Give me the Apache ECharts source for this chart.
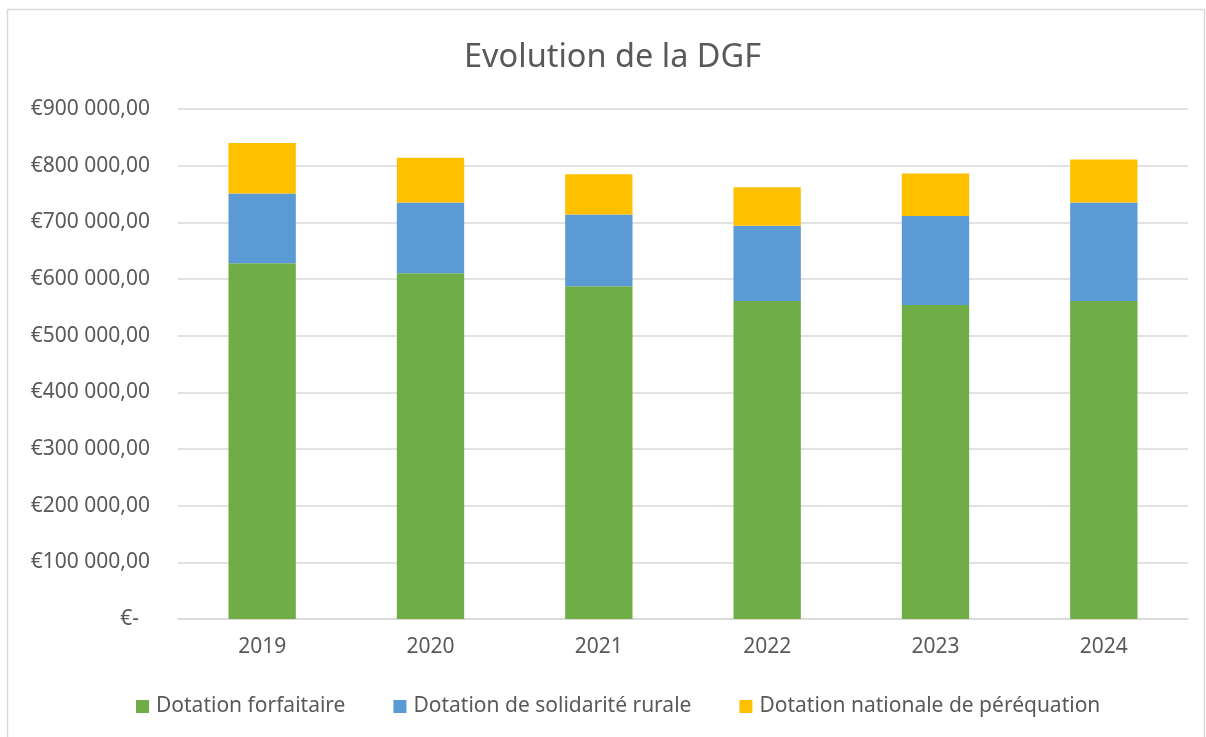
<!DOCTYPE html>
<html>
<head>
<meta charset="utf-8">
<script src="https://cdn.jsdelivr.net/npm/echarts@6/dist/echarts.min.js"></script>
<style>
  html, body { margin: 0; padding: 0; background: #fff; }
  #chart { width: 1206px; height: 737px; }
</style>
</head>
<body>
<div id="chart"></div>
<script>
// données (en euros)
var years = ["2019", "2020", "2021", "2022", "2023", "2024"];
var forfaitaire = [628000, 610000, 587000, 561000, 554000, 561000];
var solidariteRurale = [123000, 125000, 127000, 133000, 157000, 174000];
var perequation = [89000, 79000, 71000, 68000, 75000, 76000];
var seriesNames = ["Dotation forfaitaire", "Dotation de solidarité rurale", "Dotation nationale de péréquation"];
var colors = ["#70ad47", "#5b9bd5", "#ffc000"];

var font = "Noto Sans";
var textColor = "#595959";

function euro(v) {
  if (v === 0) return "€-  ";
  var s = String(Math.round(v)).replace(/\B(?=(\d{3})+(?!\d))/g, " ");
  return "€" + s + ",00";
}

var chart = echarts.init(document.getElementById("chart"));

var seriesData = [forfaitaire, solidariteRurale, perequation];
var series = [];
for (var i = 0; i < seriesData.length; i++) {
  series.push({
    name: seriesNames[i],
    type: "bar",
    stack: "dgf",
    barWidth: "40%",
    data: seriesData[i],
    itemStyle: { color: colors[i] },
    emphasis: { disabled: true }
  });
}

chart.setOption({
  animation: false,
  backgroundColor: "#fff",
  textStyle: { fontFamily: font },
  title: {
    text: "Evolution de la DGF",
    left: 459,
    top: 36,
    textStyle: { fontFamily: font, fontSize: 32.5, fontWeight: "normal", color: textColor }
  },
  legend: {
    bottom: 15,
    left: 131,
    itemWidth: 13,
    itemHeight: 13,
    itemGap: 48,
    icon: "rect",
    textStyle: { fontFamily: font, fontSize: 21, color: textColor, padding: [0, 0, 0, 2] },
    data: seriesNames
  },
  grid: { left: 178, right: 18, top: 109, bottom: 118, containLabel: false },
  xAxis: {
    type: "category",
    data: years,
    axisLine: { lineStyle: { color: "#d9d9d9", width: 1.5 } },
    axisTick: { show: false },
    axisLabel: { fontFamily: font, fontSize: 21, color: textColor, margin: 18 }
  },
  yAxis: {
    type: "value",
    min: 0,
    max: 900000,
    interval: 100000,
    axisLine: { show: false },
    axisTick: { show: false },
    splitLine: { lineStyle: { color: "#d9d9d9", width: 1.5 } },
    axisLabel: { fontFamily: font, fontSize: 21, color: textColor, margin: 28, formatter: euro }
  },
  graphic: [{
    type: "rect",
    shape: { x: 7.5, y: 9.5, width: 1197, height: 740 },
    style: { fill: "none", stroke: "#d9d9d9", lineWidth: 1.5 },
    silent: true
  }],
  series: series
});
</script>
</body>
</html>
